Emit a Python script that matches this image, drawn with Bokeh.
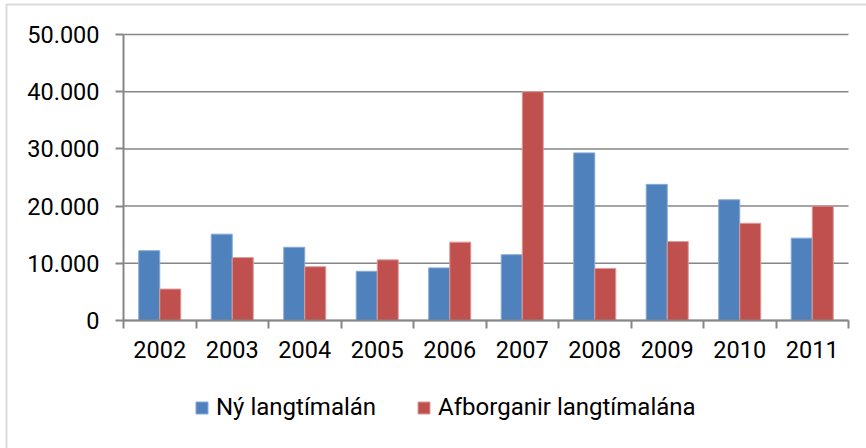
import numpy as np
from bokeh.plotting import figure
from bokeh.models import (ColumnDataSource, FixedTicker, Range1d, Legend, LegendItem,
                          LinearAxis, BoxAnnotation)
from bokeh.embed import file_html
from bokeh.resources import INLINE

years = ["2002", "2003", "2004", "2005", "2006", "2007", "2008", "2009", "2010", "2011"]
ny_lan = [12200, 15100, 12800, 8600, 9200, 11500, 29300, 23800, 21100, 14400]
afborganir = [5500, 11000, 9400, 10600, 13700, 40000, 9100, 13800, 17000, 20000]
series_names = ["Ný langtímalán", "Afborganir langtímalána"]
y_ticks = [0, 10000, 20000, 30000, 40000, 50000]

BLUE = "#4F81BD"
RED = "#C0504D"
GRID = "#868686"

W, H = 866, 448
# pixel layout of the plotting area
PL, PR, PT, PB = 123, 848, 34, 320
n = len(years)
ymax = y_ticks[-1]
px_per_cat = (PR - PL) / n
px_per_val = (PB - PT) / ymax

centers = np.arange(n) + 0.5
bw = 0.29
src = ColumnDataSource(dict(
    xb=centers - bw / 2, xr=centers + bw / 2, ny=ny_lan, af=afborganir
))

p = figure(width=W, height=H, output_backend="svg", toolbar_location=None,
           x_range=Range1d(-PL / px_per_cat, n + (W - PR) / px_per_cat),
           y_range=Range1d(-(H - PB) / px_per_val, ymax + PT / px_per_val),
           x_axis_location=None, y_axis_location=None,
           min_border=0)
p.outline_line_color = None
p.background_fill_color = "white"
p.border_fill_color = "white"
p.xgrid.grid_line_color = None
p.ygrid.grid_line_color = None

# horizontal gridlines spanning the category area only
grid_src = ColumnDataSource(dict(x0=[0] * len(y_ticks), x1=[n] * len(y_ticks), y=y_ticks))
p.segment(x0="x0", y0="y", x1="x1", y1="y", source=grid_src, line_color=GRID, line_width=1.5)

rb = p.vbar(x="xb", top="ny", width=bw, source=src, fill_color=BLUE, line_color="#86A9D5", line_width=1)
rr = p.vbar(x="xr", top="af", width=bw, source=src, fill_color=RED, line_color="#DB9C9A", line_width=1)

# y axis
yax = LinearAxis(fixed_location=0, bounds=(0, ymax))
yax.ticker = FixedTicker(ticks=y_ticks, minor_ticks=[])
yax.major_label_overrides = {t: f"{t:,}".replace(",", ".") for t in y_ticks}
yax.major_label_text_font = "Roboto"
yax.major_label_text_font_size = "23.5px"
yax.major_label_text_color = "#000000"
yax.major_label_standoff = 16
yax.axis_line_color = GRID
yax.axis_line_width = 2
yax.major_tick_line_color = GRID
yax.major_tick_line_width = 2
yax.major_tick_out = 8
yax.major_tick_in = 0
yax.minor_tick_line_color = None
p.add_layout(yax, "left")

# x axis
xax = LinearAxis(fixed_location=0, bounds=(0, n))
xax.ticker = FixedTicker(ticks=list(centers), minor_ticks=list(range(n + 1)))
xax.major_label_overrides = {float(c): y for c, y in zip(centers, years)}
xax.major_label_text_font = "Roboto"
xax.major_label_text_font_size = "23.5px"
xax.major_label_text_color = "#000000"
xax.major_label_standoff = 12
xax.axis_line_color = GRID
xax.axis_line_width = 2
xax.major_tick_line_color = None
xax.major_tick_out = 8
xax.major_tick_in = 0
xax.minor_tick_line_color = GRID
xax.minor_tick_line_width = 2
xax.minor_tick_out = 8
xax.minor_tick_in = 0
p.add_layout(xax, "below")

legend = Legend(items=[LegendItem(label=series_names[0], renderers=[rb]),
                       LegendItem(label=series_names[1], renderers=[rr])],
                location=(194, 27), orientation="horizontal")
legend.label_text_font = "Roboto"
legend.label_text_font_size = "24px"
legend.label_text_color = "#000000"
legend.glyph_width = 15
legend.glyph_height = 15
legend.label_standoff = 7
legend.spacing = 40
legend.padding = 0
legend.margin = 0
legend.border_line_color = None
legend.background_fill_alpha = 0
p.add_layout(legend)

# chart-area border (top and left edges visible)
p.add_layout(BoxAnnotation(left=6, top=4, right=W + 10, bottom=H + 10,
                           left_units="canvas", right_units="canvas",
                           top_units="canvas", bottom_units="canvas",
                           fill_alpha=0, line_color="#878787", line_width=2))

open("out.html", "w").write(file_html(p, INLINE))
